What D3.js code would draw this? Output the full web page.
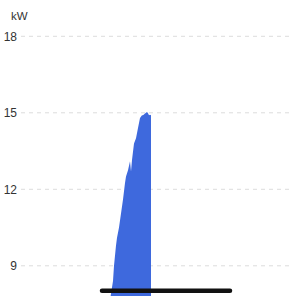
<!DOCTYPE html>
<html>
<head>
<meta charset="utf-8">
<script src="https://cdn.jsdelivr.net/npm/d3@7"></script>
<style>
  body { margin: 0; background: #fff; }
  svg { display: block; font-family: "Liberation Sans", Arial, sans-serif; }
</style>
</head>
<body>
<script>
// minutes from the left edge of the view, and power in kW
const times = [70, 80, 84, 87, 89, 90, 92, 93, 95, 99, 101, 102, 104, 106, 107, 108, 110, 112, 114, 116, 118, 119, 121, 123, 124, 125, 126, 127];
const power = [5.0, 6.4, 7.2, 7.9, 8.4, 9.0, 9.8, 10.1, 10.5, 11.6, 12.25, 12.5, 12.75, 13.1, 12.7, 13.15, 13.8, 14.0, 14.4, 14.8, 14.9, 14.9, 14.97, 15.03, 14.98, 14.9, 14.92, 14.9];
const yTicks = [9, 12, 15, 18];
const unit = 'kW';

const width = 289;
const height = 296;

const svg = d3.select('body').append('svg')
  .attr('width', width)
  .attr('height', height);

const x = d3.scaleLinear()
  .domain([0, 265])
  .range([24, 289]);

const y = d3.scaleLinear()
  .domain([9, 18])
  .range([265.8, 36.3]);

const data = times.map((t, i) => ({ t: t, v: power[i] }));

// grid lines
svg.selectAll('line.grid')
  .data(yTicks)
  .enter()
  .append('line')
  .attr('class', 'grid')
  .attr('x1', 21)
  .attr('x2', width)
  .attr('y1', d => y(d))
  .attr('y2', d => y(d))
  .style('stroke', '#dcdcdc')
  .style('stroke-width', '1px')
  .style('stroke-dasharray', '4,4');

// area
const area = d3.area()
  .x(d => x(d.t))
  .y0(y(0))
  .y1(d => y(d.v));

svg.append('path')
  .datum(data)
  .attr('d', area)
  .style('fill', '#3e69dd');

// tick labels
svg.selectAll('text.tick')
  .data(yTicks)
  .enter()
  .append('text')
  .attr('class', 'tick')
  .attr('x', 17)
  .attr('y', d => y(d))
  .attr('dy', '0.35em')
  .attr('text-anchor', 'end')
  .style('font-size', '12px')
  .style('fill', '#333')
  .text(d => d);

svg.append('text')
  .attr('x', 11)
  .attr('y', 20)
  .style('font-size', '11.5px')
  .style('fill', '#333')
  .text(unit);

// home indicator
svg.append('line')
  .attr('x1', 102)
  .attr('x2', 230)
  .attr('y1', 290.7)
  .attr('y2', 290.7)
  .style('stroke', '#111')
  .style('stroke-width', '4.5px')
  .style('stroke-linecap', 'round');
</script>
</body>
</html>
